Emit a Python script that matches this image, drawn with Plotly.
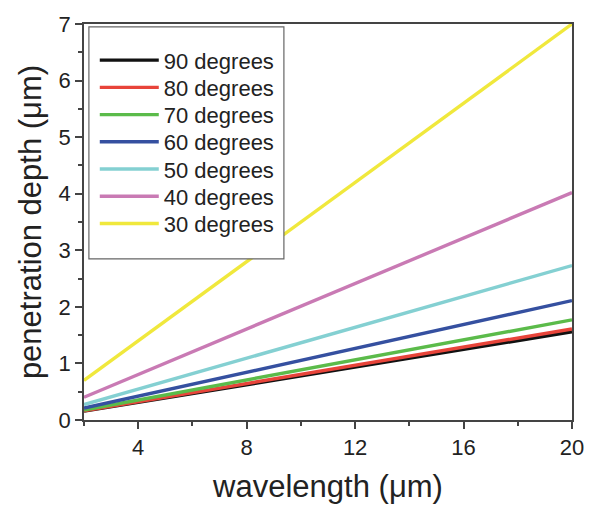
import plotly.graph_objects as go

wavelength = [2, 20]
labels = ["90 degrees", "80 degrees", "70 degrees", "60 degrees", "50 degrees", "40 degrees", "30 degrees"]
depth_90 = [0.156, 1.56]
depth_80 = [0.161, 1.61]
depth_70 = [0.177, 1.77]
depth_60 = [0.211, 2.11]
depth_50 = [0.273, 2.73]
depth_40 = [0.402, 4.02]
depth_30 = [0.70, 7.0]
series = [depth_90, depth_80, depth_70, depth_60, depth_50, depth_40, depth_30]
colors = ["#111111", "#e8443a", "#5bbb4a", "#3550a0", "#84d0d2", "#c97ab4", "#f0e83c"]

font = "Arial, 'Liberation Sans', sans-serif"
W, H = 596, 510
ML, MR, MT, MB = 84, 14, 19, 88
PW, PH = W - ML - MR, H - MT - MB


def px_to_paper_x(px):
    return (px - ML) / PW


def px_to_paper_y(py):
    return (H - MB - py) / PH


fig = go.Figure()
legend_layouts = {}
for i, (lab, ys, c) in enumerate(zip(labels, series, colors)):
    lname = "legend" if i == 0 else f"legend{i + 1}"
    fig.add_trace(go.Scatter(x=wavelength, y=ys, mode="lines", name=lab,
                             line=dict(color=c, width=3.4), legend=lname))
    legend_layouts[lname] = dict(
        x=px_to_paper_x(95), y=px_to_paper_y(56 + i * 27.7),
        xanchor="left", yanchor="middle",
        bgcolor="rgba(0,0,0,0)", borderwidth=0,
        font=dict(size=22, family=font, color="#222222"),
        itemwidth=59,
    )

fig.add_shape(type="rect", xref="paper", yref="paper",
              x0=px_to_paper_x(89), x1=px_to_paper_x(288),
              y0=px_to_paper_y(258), y1=px_to_paper_y(22),
              line=dict(color="#666666", width=1.2), fillcolor="white", layer="above")

fig.update_layout(
    width=W, height=H,
    margin=dict(l=ML, r=MR, t=MT, b=MB),
    paper_bgcolor="white", plot_bgcolor="white",
    font=dict(family=font, color="#222222"),
    showlegend=True,
    xaxis=dict(range=[2, 20], tick0=0, dtick=4, ticks="outside", ticklen=7, tickwidth=1.5,
               tickcolor="#444444", showline=True, linecolor="#444444", linewidth=1.5,
               mirror=True, showgrid=False, zeroline=False,
               tickfont=dict(size=22, family=font, color="#222222"),
               minor=dict(ticks="outside", ticklen=4, dtick=2, tick0=0, tickcolor="#444444", tickwidth=1.5),
               title=dict(text="wavelength (μm)", font=dict(size=31, family=font, color="#222222"), standoff=16)),
    yaxis=dict(range=[0, 7], tick0=0, dtick=1, ticks="outside", ticklen=7, tickwidth=1.5,
               tickcolor="#444444", showline=True, linecolor="#444444", linewidth=1.5,
               mirror=True, showgrid=False, zeroline=False,
               tickfont=dict(size=22, family=font, color="#222222"),
               minor=dict(ticks="outside", ticklen=4, dtick=0.5, tick0=0, tickcolor="#444444", tickwidth=1.5),
               title=dict(text="penetration depth (μm)", font=dict(size=31, family=font, color="#222222"), standoff=8)),
    **legend_layouts,
)

fig.write_html("out.html")
